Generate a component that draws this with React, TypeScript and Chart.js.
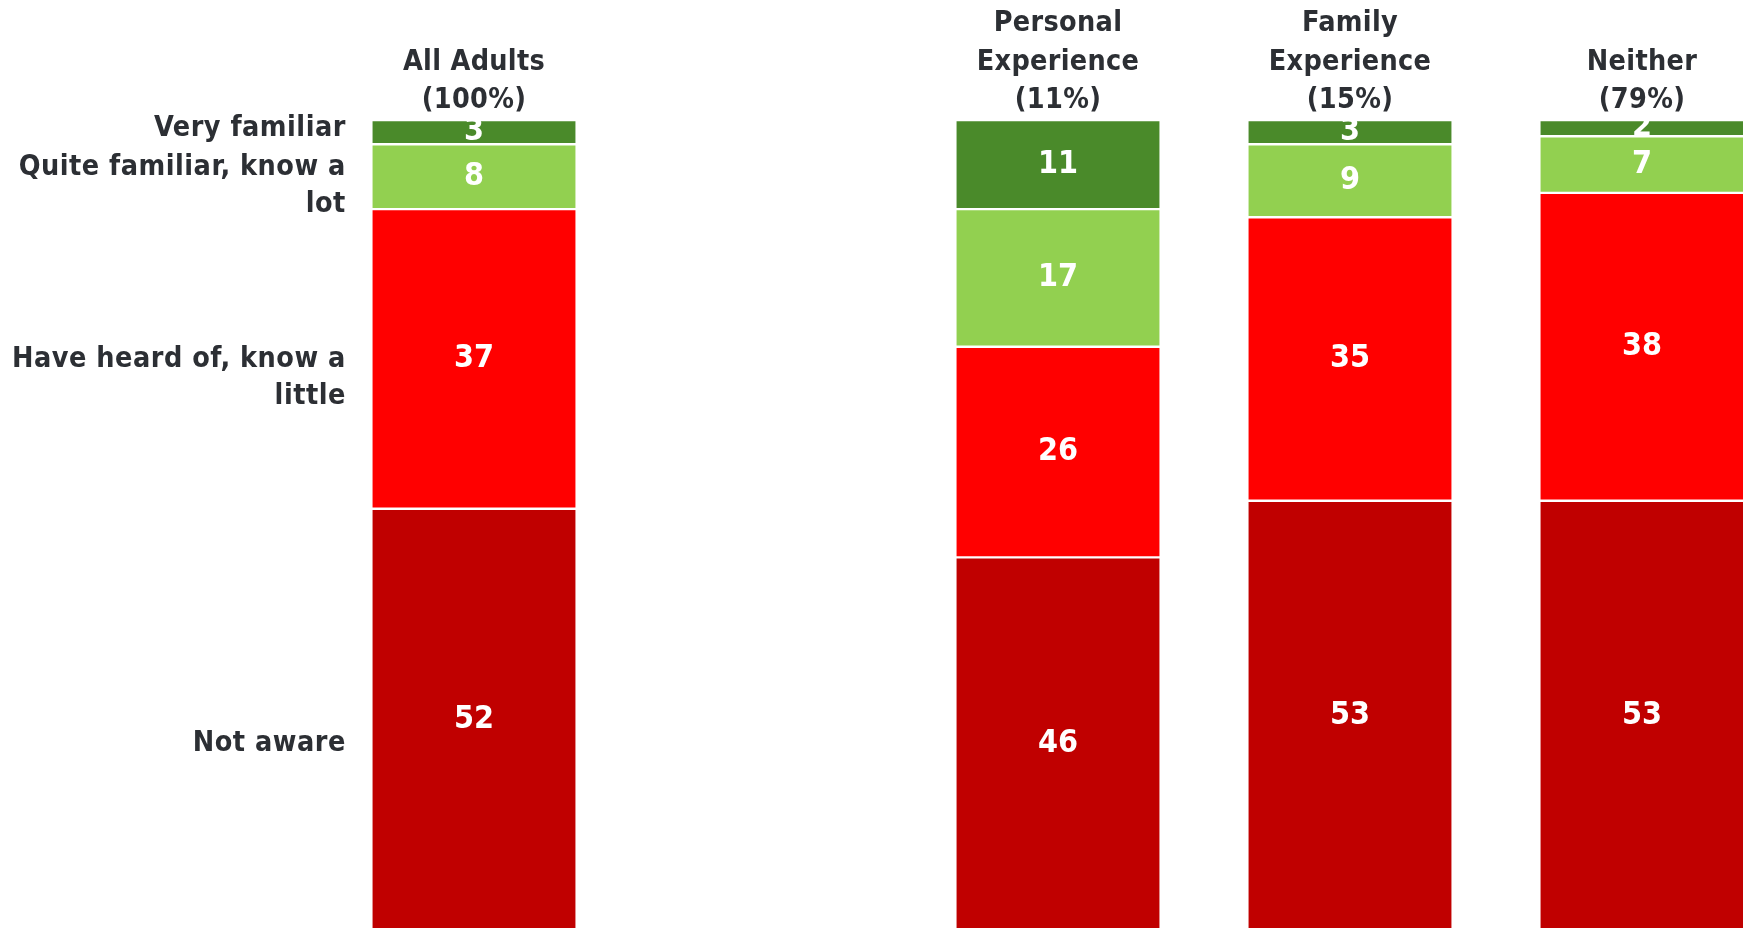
import React, { useEffect, useRef } from "react";
import { Chart, registerables } from "chart.js";

Chart.register(...registerables);

// ---- data ----
const categories: string[][] = [
  ["All Adults", "(100%)"],
  [""],
  ["Personal", "Experience", "(11%)"],
  ["Family", "Experience", "(15%)"],
  ["Neither", "(79%)"],
];
const seriesNames: string[] = [
  "Not aware",
  "Have heard of, know a little",
  "Quite familiar, know a lot",
  "Very familiar",
];
const notAware: (number | null)[] = [52, null, 46, 53, 53];
const heardOf: (number | null)[] = [37, null, 26, 35, 38];
const quiteFamiliar: (number | null)[] = [8, null, 17, 9, 7];
const veryFamiliar: (number | null)[] = [3, null, 11, 3, 2];

// left-hand series labels (wrapped text) and the value on the y scale where each is centred
const seriesLabelLines: string[][] = [
  ["Not aware"],
  ["Have heard of, know a", "little"],
  ["Quite familiar, know a", "lot"],
  ["Very familiar"],
];
const seriesLabelAnchors: number[] = [23.0, 68.1, 91.8, 98.9];

// ---- styles ----
const COLORS = ["#C00000", "#FF0000", "#92D050", "#4A8A2A"];
const TEXT = "#2C2F34";
const FAMILY = '"DejaVu Sans Condensed", "DejaVu Sans", sans-serif';
const LABEL_SIZE = 28.5;
const HEADER_LINE_H = 38.5;
const SIDE_LINE_H = 37;
const VALUE_SIZE = 32;

const spacingPlugin = {
  id: "spacing",
  beforeDraw(chart: any) {
    chart.ctx.letterSpacing = "0.3px";
  },
  beforeDatasetsDraw(chart: any) {
    chart.ctx.letterSpacing = "0px";
  },
};

const valueLabelsPlugin = {
  id: "valueLabels",
  afterDatasetsDraw(chart: any) {
    const ctx = chart.ctx;
    ctx.save();
    ctx.letterSpacing = "0px";
    ctx.font = `bold ${VALUE_SIZE}px ${FAMILY}`;
    ctx.fillStyle = "#FFFFFF";
    ctx.textAlign = "center";
    ctx.textBaseline = "middle";
    chart.data.datasets.forEach((ds: any, i: number) => {
      const meta = chart.getDatasetMeta(i);
      meta.data.forEach((el: any, j: number) => {
        const v = ds.data[j];
        if (v === null || v === undefined) return;
        const { x, y, base } = el.getProps(["x", "y", "base"], true);
        ctx.fillText(String(v), x, (y + base) / 2);
      });
    });
    ctx.restore();
  },
};

const seriesLabelsPlugin = {
  id: "seriesLabels",
  afterDatasetsDraw(chart: any) {
    const ctx = chart.ctx;
    const yScale = chart.scales.y;
    const bar = chart.getDatasetMeta(0).data[0];
    if (!bar) return;
    const { x, width } = bar.getProps(["x", "width"], true);
    const right = x - width / 2 - 25.5;
    ctx.save();
    ctx.letterSpacing = "0.5px";
    ctx.font = `bold ${LABEL_SIZE}px ${FAMILY}`;
    ctx.fillStyle = TEXT;
    ctx.textAlign = "right";
    ctx.textBaseline = "middle";
    seriesLabelLines.forEach((lines, i) => {
      const cy = yScale.getPixelForValue(seriesLabelAnchors[i]);
      const start = cy - ((lines.length - 1) * SIDE_LINE_H) / 2;
      lines.forEach((line, k) => ctx.fillText(line, right, start + k * SIDE_LINE_H));
    });
    ctx.restore();
  },
};

export default function App() {
  const ref = useRef<HTMLCanvasElement | null>(null);

  useEffect(() => {
    if (!ref.current) return;
    const series = [notAware, heardOf, quiteFamiliar, veryFamiliar];
    const chart = new Chart(ref.current, {
      type: "bar",
      data: {
        labels: categories as any,
        datasets: series.map((d, i) => ({
          label: seriesNames[i],
          data: d,
          backgroundColor: COLORS[i],
          borderColor: "#FFFFFF",
          borderWidth: 1.2,
          borderSkipped: false,
          categoryPercentage: 0.703,
          barPercentage: 1,
        })),
      },
      options: {
        responsive: false,
        animation: false,
        events: [],
        layout: { padding: { left: 328, top: 4.5, right: 0, bottom: 1 } },
        plugins: {
          legend: { display: false },
          tooltip: { enabled: false },
          title: { display: false },
        },
        scales: {
          x: {
            position: "top",
            stacked: true,
            grid: { display: false, drawTicks: false },
            border: { display: false },
            ticks: {
              padding: 0,
              maxRotation: 0,
              minRotation: 0,
              autoSkip: false,
              color: TEXT,
              font: { family: FAMILY, size: LABEL_SIZE, weight: "bold", lineHeight: `${HEADER_LINE_H}px` },
            },
          },
          y: { display: false, stacked: true, min: 0, max: 100 },
        },
      } as any,
      plugins: [spacingPlugin, valueLabelsPlugin, seriesLabelsPlugin],
    });
    return () => chart.destroy();
  }, []);

  return (
    <div
      style={{
        position: "absolute",
        left: 0,
        top: 0,
        width: 1743,
        height: 928,
        overflow: "hidden",
        background: "#FFFFFF",
      }}
    >
      <canvas ref={ref} width={1788} height={931} style={{ display: "block", width: 1788, height: 931 }} />
    </div>
  );
}
